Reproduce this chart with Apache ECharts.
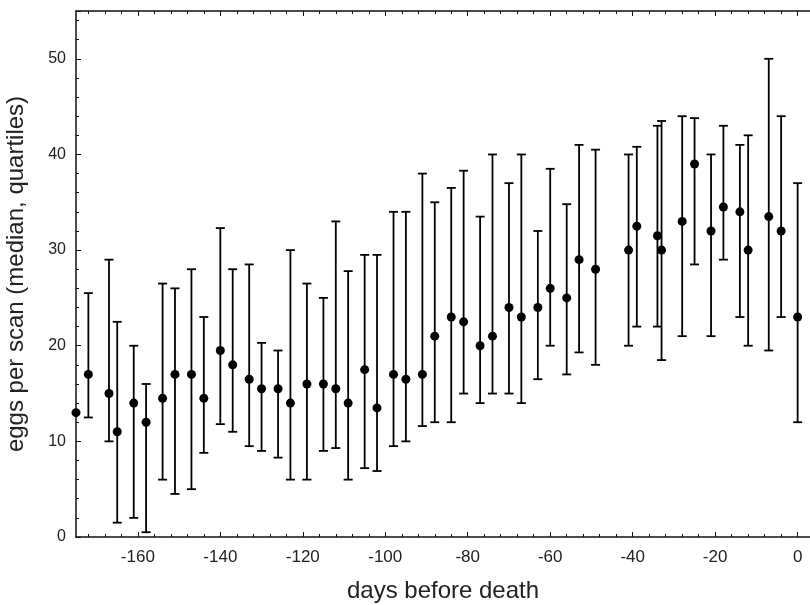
<!DOCTYPE html>
<html>
<head>
<meta charset="utf-8">
<script src="https://cdn.jsdelivr.net/npm/echarts@6/dist/echarts.min.js"></script>
<style>
  html, body { margin: 0; padding: 0; background: #fff; }
  #chart { width: 810px; height: 605px; }
</style>
</head>
<body>
<div id="chart"></div>
<script>
// days before death (x) of each scan
const days = [-175, -172, -167, -165, -161, -158, -154, -151, -147, -144,
  -140, -137, -133, -130, -126, -123, -119, -115, -112, -109,
  -105, -102, -98, -95, -91, -88, -84, -81, -77, -74,
  -70, -67, -63, -60, -56, -53, -49, -41, -39, -34,
  -33, -28, -25, -21, -18, -14, -12, -7, -4, 0]
// median eggs per scan
const medians = [13, 17, 15, 11, 14, 12, 14.5, 17, 17, 14.5,
  19.5, 18, 16.5, 15.5, 15.5, 14, 16, 16, 15.5, 14,
  17.5, 13.5, 17, 16.5, 17, 21, 23, 22.5, 20, 21,
  24, 23, 24, 26, 25, 29, 28, 30, 32.5, 31.5,
  30, 33, 39, 32, 34.5, 34, 30, 33.5, 32, 23]
// lower quartile
const lowerQ = [null, 12.5, 10, 1.5, 2, 0.5, 6, 4.5, 5, 8.8,
  11.8, 11, 9.5, 9, 8.3, 6, 6, 9, 9.3, 6,
  7.2, 6.9, 9.5, 10, 11.6, 12, 12, 15, 14, 15,
  15, 14, 16.5, 20, 17, 19.3, 18, 20, 22, 22,
  18.5, 21, 28.5, 21, 29, 23, 20, 19.5, 23, 12]
// upper quartile
const upperQ = [null, 25.5, 29, 22.5, 20, 16, 26.5, 26, 28, 23,
  32.3, 28, 28.5, 20.3, 19.5, 30, 26.5, 25, 33, 27.8,
  29.5, 29.5, 34, 34, 38, 35, 36.5, 38.3, 33.5, 40,
  37, 40, 32, 38.5, 34.8, 41, 40.5, 40, 40.8, 43,
  43.5, 44, 43.8, 40, 43, 41, 42, 50, 44, 37]
// x tick values
const xMajorTicks = [-160, -140, -120, -100, -80, -60, -40, -20, 0]
const xMinorTicks = []
for (let v = -172; v <= 0; v += 4) {
  if (v % 20 !== 0) xMinorTicks.push(v)
}

const chart = echarts.init(document.getElementById('chart'))

const font = 'Liberation Sans, Arial, sans-serif'
const ink = '#111'

function xAx(pos, ticks, len, withLine, withLabel) {
  return {
    type: 'value',
    position: pos,
    min: -175,
    max: 3,
    axisLine: { show: withLine, onZero: false, lineStyle: { color: ink, width: 1.5 } },
    axisTick: { show: true, inside: true, length: len, customValues: ticks, lineStyle: { color: ink, width: 1 } },
    axisLabel: withLabel
      ? { show: true, customValues: xMajorTicks, margin: 12, color: '#222', fontSize: 17, fontFamily: font }
      : { show: false },
    splitLine: { show: false }
  }
}

const xAxes = [
  xAx('bottom', xMajorTicks, 5, true, true),
  xAx('bottom', xMinorTicks, 3, false, false),
  xAx('top', xMajorTicks, 5, true, false),
  xAx('top', xMinorTicks, 3, false, false)
]
xAxes[0].name = 'days before death'
xAxes[0].nameLocation = 'middle'
xAxes[0].nameGap = 42
xAxes[0].nameTextStyle = { color: '#222', fontSize: 24, fontFamily: font }

const errData = []
days.forEach((d, i) => {
  if (lowerQ[i] !== null && upperQ[i] !== null) errData.push([d, lowerQ[i], upperQ[i]])
})

chart.setOption({
  backgroundColor: '#fff',
  animation: false,
  grid: { left: 76, right: 0, top: 11, bottom: 68, outerBoundsMode: 'none' },
  xAxis: xAxes,
  yAxis: {
    type: 'value',
    position: 'left',
    min: 0,
    max: 55,
    interval: 10,
    name: 'eggs per scan (median, quartiles)',
    nameLocation: 'middle',
    nameGap: 48,
    nameTextStyle: { color: '#222', fontSize: 24, fontFamily: font },
    axisLine: { show: true, onZero: false, lineStyle: { color: ink, width: 1.5 } },
    axisTick: { show: true, inside: true, length: 5, lineStyle: { color: ink, width: 1 } },
    minorTick: { show: true, splitNumber: 5, length: 3, lineStyle: { color: ink, width: 1 } },
    axisLabel: { margin: 10, showMaxLabel: false, color: '#222', fontSize: 16, fontFamily: font },
    splitLine: { show: false }
  },
  series: [
    {
      // quartile whiskers
      type: 'custom',
      xAxisIndex: 0,
      yAxisIndex: 0,
      data: errData,
      z: 2,
      renderItem: function (params, api) {
        const lo = api.coord([api.value(0), api.value(1)])
        const hi = api.coord([api.value(0), api.value(2)])
        const half = 4.5
        const style = { stroke: '#000', lineWidth: 1.8 }
        return {
          type: 'group',
          children: [
            { type: 'line', shape: { x1: lo[0], y1: lo[1], x2: hi[0], y2: hi[1] }, style: style },
            { type: 'line', shape: { x1: lo[0] - half, y1: lo[1], x2: lo[0] + half, y2: lo[1] }, style: style },
            { type: 'line', shape: { x1: hi[0] - half, y1: hi[1], x2: hi[0] + half, y2: hi[1] }, style: style }
          ]
        }
      }
    },
    {
      // medians
      type: 'scatter',
      xAxisIndex: 0,
      yAxisIndex: 0,
      symbol: 'circle',
      symbolSize: 9,
      itemStyle: { color: '#000', opacity: 1 },
      z: 3,
      data: days.map((d, i) => [d, medians[i]])
    }
  ]
})
</script>
</body>
</html>
